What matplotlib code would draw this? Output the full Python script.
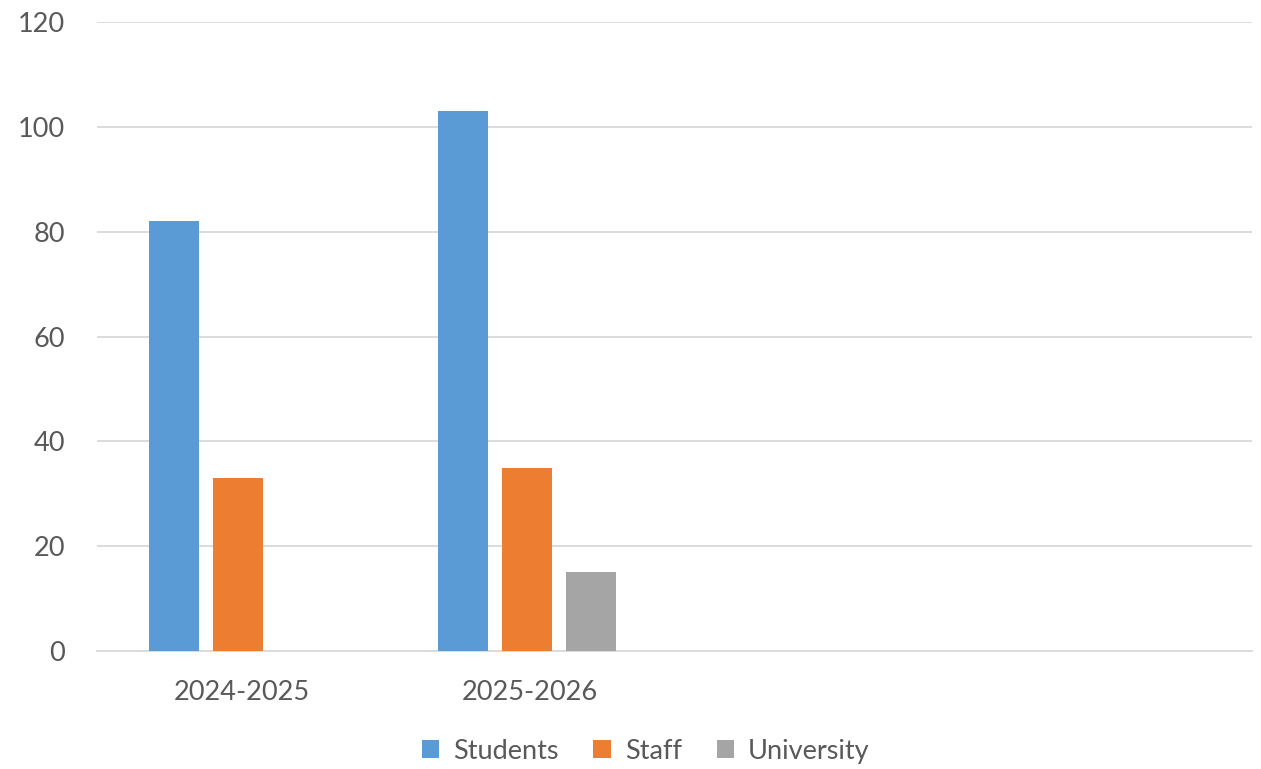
import numpy as np
import matplotlib.pyplot as plt

categories = ["2024-2025", "2025-2026", "", ""]
students = [82, 103, np.nan, np.nan]
staff = [33, 35, np.nan, np.nan]
university = [np.nan, 15, np.nan, np.nan]

series = [("Students", students, "#5B9BD5"),
          ("Staff", staff, "#ED7D31"),
          ("University", university, "#A5A5A5")]

plt.rcParams['font.family'] = ['Lato', 'DejaVu Sans']

fig = plt.figure(figsize=(12.61, 7.69), dpi=100)
ax = fig.add_axes([97 / 1261, 1 - 651 / 769, 1155 / 1261, 629 / 769])

x = np.arange(len(categories))
step = 0.2216
width = 0.173
for i, (name, vals, col) in enumerate(series):
    ax.bar(x + (i - 1) * step - 0.012, vals, width=width, color=col, label=name, zorder=3)

ax.set_xlim(-0.5, len(categories) - 0.5)
ax.set_ylim(0, 120)
ax.set_yticks(range(0, 121, 20))
ax.set_xticks(x)
ax.set_xticklabels(categories)
ax.yaxis.grid(True, color="#D9D9D9", linewidth=1.3)
ax.set_axisbelow(True)
for s in ["top", "right", "left"]:
    ax.spines[s].set_visible(False)
ax.spines["bottom"].set_color("#D9D9D9")
ax.spines["bottom"].set_linewidth(1.3)
ax.tick_params(axis="both", length=0, labelsize=19.5, labelcolor="#595959")
ax.tick_params(axis="x", pad=21)
ax.tick_params(axis="y", pad=23)

fig.legend(loc="lower center", bbox_to_anchor=(0.512, -0.025), ncol=3, frameon=False,
           fontsize=19.5, labelcolor="#595959", handlelength=0.65, handleheight=0.65,
           handletextpad=0.5, columnspacing=1.3)

fig.savefig("out.png", dpi=100)
